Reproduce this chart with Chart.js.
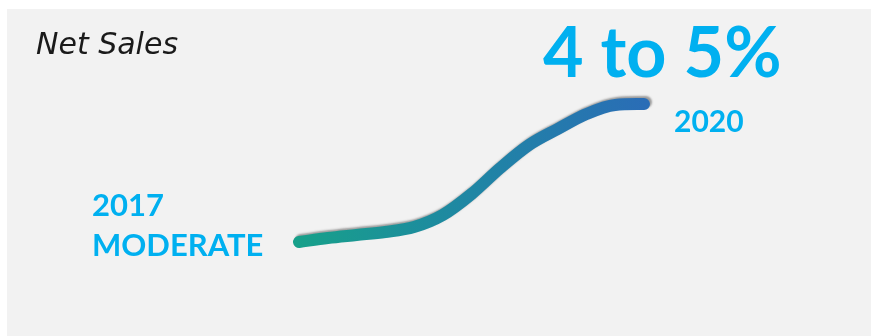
<!DOCTYPE html>
<html>
<head>
<meta charset="utf-8">
<script src="https://cdn.jsdelivr.net/npm/chart.js@4/dist/chart.umd.min.js"></script>
<style>
  html, body { margin: 0; padding: 0; background: #fff; }
  body { width: 872px; height: 336px; position: relative; overflow: hidden; }
  #panel { position: absolute; left: 7px; top: 9px; width: 864px; height: 327px; background: #f2f2f2; }
  #panel canvas { position: absolute; left: 0; top: 0; }
  .lbl { position: absolute; line-height: 1; white-space: nowrap; font-family: Lato, "Noto Sans", sans-serif; }
  #title { left: 29px; top: 20px; font-size: 30px; font-style: italic; color: #1a1a1a; font-weight: 400; font-family: "DejaVu Sans", sans-serif; }
  #big { left: 536px; top: 6px; font-size: 70px; font-weight: 700; color: #00b0f0; }
  #end { left: 667px; top: 96px; font-size: 30px; font-weight: 700; color: #00b0f0; }
  #start { left: 85px; top: 175px; font-size: 31px; font-weight: 700; color: #00b0f0; line-height: 40px; }
</style>
</head>
<body>
<div id="panel">
  <canvas id="salesChart" width="864" height="327"></canvas>
  <div class="lbl" id="title">Net Sales</div>
  <div class="lbl" id="big">4 to 5%</div>
  <div class="lbl" id="end">2020</div>
  <div class="lbl" id="start">2017<br>MODERATE</div>
</div>
<script>
// ─── Data ─────────────────────────────────────────────────
const years = [2017, 2017.25, 2017.5, 2017.75, 2018, 2018.25, 2018.5, 2018.75, 2019, 2019.25, 2019.5, 2019.75, 2020];
const salesIndex = [0, 4, 7, 10, 15, 27, 48, 74, 97, 113, 128, 137, 138];

// soft grey shadow above the stroke, like the slide
const shadowPlugin = {
  id: 'strokeShadow',
  beforeDatasetDraw(chart) {
    const c = chart.ctx;
    c.save();
    c.shadowColor = 'rgba(70,70,70,0.5)';
    c.shadowBlur = 2;
    c.shadowOffsetX = 2;
    c.shadowOffsetY = -2;
  },
  afterDatasetDraw(chart) {
    chart.ctx.restore();
  }
};

const ctx = document.getElementById('salesChart');
new Chart(ctx, {
  type: 'line',
  data: {
    datasets: [{
      data: years.map((y, i) => ({ x: y, y: salesIndex[i] })),
      borderColor: (c) => {
        const { ctx: g, chartArea } = c.chart;
        if (!chartArea) return '#1f86a4';
        const xs = c.chart.scales.x;
        const grad = g.createLinearGradient(xs.getPixelForValue(2017), 0, xs.getPixelForValue(2020), 0);
        grad.addColorStop(0, '#17a08a');
        grad.addColorStop(0.5, '#1f86a4');
        grad.addColorStop(1, '#2a6db6');
        return grad;
      },
      borderWidth: 12,
      borderCapStyle: 'round',
      borderJoinStyle: 'round',
      cubicInterpolationMode: 'monotone',
      pointRadius: 0,
      fill: false,
      clip: false,
    }],
  },
  options: {
    responsive: false,
    animation: false,
    layout: { padding: 0 },
    plugins: { legend: { display: false }, tooltip: { enabled: false } },
    scales: {
      x: { type: 'linear', display: false, min: 2014.461, max: 2021.974 },
      y: { display: false, min: -94, max: 233 },
    },
  },
  plugins: [shadowPlugin],
});
</script>
</body>
</html>
